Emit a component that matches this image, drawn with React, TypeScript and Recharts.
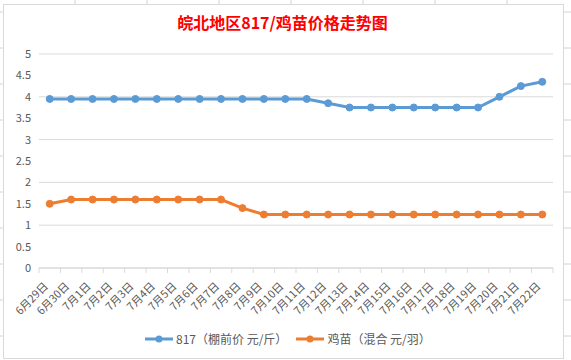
import { LineChart, Line, XAxis, YAxis, CartesianGrid } from "recharts";

const dates = [
  "6月29日", "6月30日", "7月1日", "7月2日", "7月3日", "7月4日", "7月5日", "7月6日",
  "7月7日", "7月8日", "7月9日", "7月10日", "7月11日", "7月12日", "7月13日", "7月14日",
  "7月15日", "7月16日", "7月17日", "7月18日", "7月19日", "7月20日", "7月21日", "7月22日",
];

const price817 = [
  3.95, 3.95, 3.95, 3.95, 3.95, 3.95, 3.95, 3.95, 3.95, 3.95, 3.95, 3.95, 3.95,
  3.85, 3.75, 3.75, 3.75, 3.75, 3.75, 3.75, 3.75, 4.0, 4.25, 4.35,
];

const chickPrice = [
  1.5, 1.6, 1.6, 1.6, 1.6, 1.6, 1.6, 1.6, 1.6, 1.4, 1.25, 1.25, 1.25, 1.25, 1.25,
  1.25, 1.25, 1.25, 1.25, 1.25, 1.25, 1.25, 1.25, 1.25,
];

const yTicks = [0, 0.5, 1, 1.5, 2, 2.5, 3, 3.5, 4, 4.5, 5];

const name817 = "817（棚前价 元/斤）";
const nameChick = "鸡苗（混合 元/羽）";

const data = dates.map((d, i) => ({ date: d, a: price817[i], b: chickPrice[i] }));

const W = 571;
const H = 360;
const margin = { top: 54, right: 18, left: 9, bottom: 32 };
const yAxisW = 30;
const plotW = W - margin.left - margin.right - yAxisW;
const band = plotW / dates.length;

const FONT = "'Noto Sans CJK SC', 'Noto Sans', sans-serif";
const BLUE = "#5b9bd5";
const ORANGE = "#ed7d31";
const GRID = "#d9d9d9";
const TEXT = "#595959";

function DateTick(props: any) {
  const { x, y, payload, index } = props;
  const last = index === dates.length - 1;
  return (
    <g transform={`translate(${x},${y})`}>
      <line x1={-band / 2} y1={0} x2={-band / 2} y2={5} stroke={GRID} />
      {last && <line x1={band / 2} y1={0} x2={band / 2} y2={5} stroke={GRID} />}
      <text
        x={0}
        y={0}
        transform="translate(-1,19) rotate(-45)"
        textAnchor="end"
        fill={TEXT}
        fontSize={11}
        fontFamily={FONT}
      >
        {payload.value}
      </text>
    </g>
  );
}

function LegendItem({ color, label }: { color: string; label: string }) {
  return (
    <div style={{ display: "flex", alignItems: "center", marginRight: 8 }}>
      <svg width={30} height={10}>
        <line x1={1} y1={5} x2={29} y2={5} stroke={color} strokeWidth={3} />
        <circle cx={15} cy={5} r={3.5} fill={color} />
      </svg>
      <span style={{ fontSize: 12, color: TEXT, marginLeft: 2 }}>{label}</span>
    </div>
  );
}

export default function App() {
  return (
    <div
      style={{
        position: "fixed",
        left: 0,
        top: 0,
        width: W,
        height: H,
        background: "#fff",
        fontFamily: FONT,
        overflow: "hidden",
      }}
    >
      {/* spreadsheet cell lines behind the chart */}
      <svg width={W} height={H} style={{ position: "absolute", left: 0, top: 0 }}>
        {[75, 147, 219, 291, 363, 435, 507].map((gx) => (
          <line key={gx} x1={gx} y1={0} x2={gx} y2={4} stroke="#d4d4d4" />
        ))}
        {[12, 48, 84, 120, 156, 192, 228, 264, 300, 336].map((gy) => (
          <g key={gy}>
            <line x1={0} y1={gy} x2={3} y2={gy} stroke="#d4d4d4" />
            <line x1={563} y1={gy} x2={571} y2={gy} stroke="#d4d4d4" />
          </g>
        ))}
      </svg>
      <div
        style={{
          position: "absolute",
          left: 3,
          top: 4,
          width: 561,
          height: 355,
          border: "1px solid #d9d9d9",
          boxSizing: "border-box",
          background: "#fff",
        }}
      />
      <div
        style={{
          position: "absolute",
          left: 0,
          top: 10,
          width: W - 6,
          textAlign: "center",
          color: "#ff0000",
          fontWeight: "bold",
          fontSize: 16,
          lineHeight: "24px",
        }}
      >
        皖北地区817/鸡苗价格走势图
      </div>
      <div style={{ position: "absolute", left: 0, top: 0 }}>
        <LineChart width={W} height={H} data={data} margin={margin}>
          <CartesianGrid vertical={false} stroke={GRID} />
          <XAxis
            dataKey="date"
            interval={0}
            height={60}
            padding={{ left: band / 2, right: band / 2 }}
            stroke={GRID}
            tickLine={false}
            tickSize={0}
            tickMargin={0}
            tick={<DateTick />}
          />
          <YAxis
            width={yAxisW}
            domain={[0, 5]}
            ticks={yTicks}
            axisLine={false}
            tickLine={false}
            tick={{ fill: TEXT, fontSize: 11, fontFamily: FONT }}
          />
          <Line
            dataKey="a"
            name={name817}
            stroke={BLUE}
            strokeWidth={3}
            dot={{ r: 3.5, fill: BLUE, stroke: BLUE, strokeWidth: 1 }}
            isAnimationActive={false}
          />
          <Line
            dataKey="b"
            name={nameChick}
            stroke={ORANGE}
            strokeWidth={3}
            dot={{ r: 3.5, fill: ORANGE, stroke: ORANGE, strokeWidth: 1 }}
            isAnimationActive={false}
          />
        </LineChart>
      </div>
      <div
        style={{
          position: "absolute",
          left: 144,
          top: 330,
          display: "flex",
          alignItems: "center",
        }}
      >
        <LegendItem color={BLUE} label={name817} />
        <LegendItem color={ORANGE} label={nameChick} />
      </div>
    </div>
  );
}
